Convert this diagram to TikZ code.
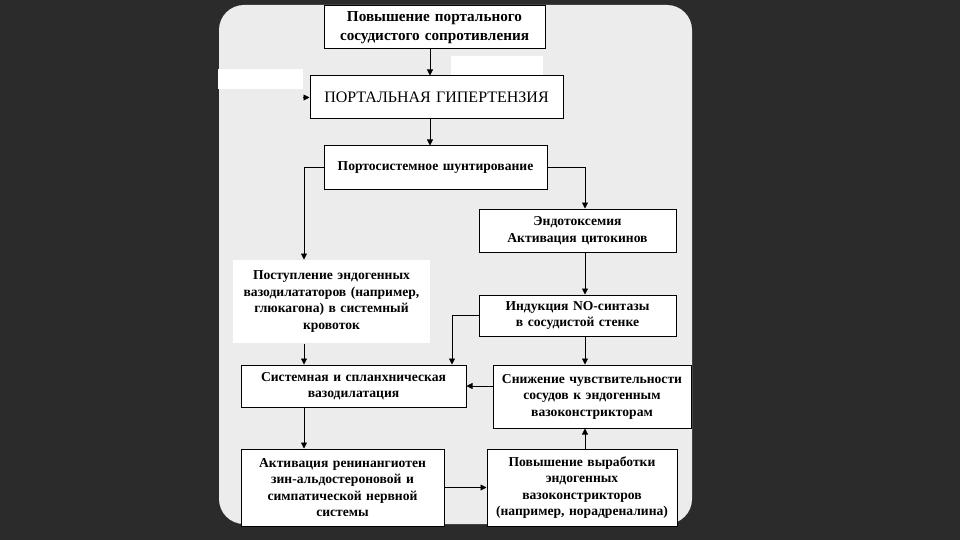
\documentclass[tikz,border=0pt]{standalone}
\usepackage{fontspec}
\setmainfont{Liberation Serif}
\usepackage{xcolor}
\usetikzlibrary{arrows.meta}

\definecolor{darkbg}{HTML}{2B2B2B}
\definecolor{cardbg}{HTML}{ECECEC}

\begin{document}
\begin{tikzpicture}[x=1pt, y=-1pt,
        box/.style={draw, line width=1pt, fill=white, inner sep=0pt, align=center,
            font=\bfseries\fontsize{13.6}{16.5}\selectfont},
        blank/.style={fill=white, inner sep=0pt},
        arr/.style={line width=0.8pt, -{Triangle[length=6pt, width=6pt]}}]
        \fill[darkbg] (0, 0) rectangle (960, 540);
        \fill[cardbg, rounded corners=25pt] (219, 5) rectangle (692, 524);

        \node[blank, minimum width=85pt, minimum height=20pt] (bl) at (260.5, 79) {};
        \node[blank, minimum width=92pt, minimum height=20pt] (br) at (497, 66) {};

        \node[box, text width=221pt, minimum height=43pt,
            font=\bfseries\fontsize{15.2}{18.5}\selectfont] (top) at (434.5, 27.5)
            {Повышение портального\\сосудистого сопротивления};
        \node[box, text width=253pt, minimum height=43pt,
            font=\fontsize{16}{19}\selectfont] (portal) at (436.5, 97.5)
            {ПОРТАЛЬНАЯ ГИПЕРТЕНЗИЯ};
        \node[box, text width=223pt, minimum height=43pt] (shunt) at (435.5, 167.5)
            {Портосистемное шунтирование};
        \node[box, text width=197pt, minimum height=43pt] (endo) at (577.5, 230.5)
            {Эндотоксемия\\Активация цитокинов};
        \node[box, draw=none, text width=197pt, minimum height=83pt] (post) at (331.5, 301.5)
            {Поступление эндогенных\\вазодилататоров (например,\\глюкагона) в системный\\кровоток\\[4pt]};
        \node[box, text width=197pt, minimum height=41pt] (induc) at (577.5, 315.5)
            {Индукция NO-синтазы\\в сосудистой стенке};
        \node[box, text width=225pt, minimum height=42pt] (sist) at (353.5, 386)
            {Системная и спланхническая\\вазодилатация};
        \node[box, text width=198pt, minimum height=63pt] (snizh) at (592, 396.5)
            {Снижение чувствительности\\сосудов к эндогенным\\вазоконстрикторам};
        \node[box, text width=203pt, minimum height=77pt] (activ) at (342.5, 487.5)
            {Активация ренинангиотен\\зин-альдостероновой и\\симпатической нервной\\системы};
        \node[box, text width=190pt, minimum height=77pt] (povysh) at (582, 487.5)
            {Повышение выработки\\эндогенных\\вазоконстрикторов\\(например, норадреналина)};

        \coordinate (mx) at (430, 0);
        \coordinate (lx) at (304, 0);
        \coordinate (rx) at (585, 0);
        \coordinate (sx) at (452, 0);

        \draw[arr] (top.south -| mx) to (portal.north -| mx);
        \draw[arr] (bl.east |- portal.west) to (portal.west);
        \draw[arr] (portal.south -| mx) to (shunt.north -| mx);
        \draw[arr] (shunt.west) -| (post.north -| lx);
        \draw[arr] (shunt.east) -| (endo.north -| rx);
        \draw[arr] (endo.south -| rx) to (induc.north -| rx);
        \draw[arr] (induc.west) -| (sist.north -| sx);
        \draw[arr] (post.south -| lx) to (sist.north -| lx);
        \draw[arr] (induc.south -| rx) to (snizh.north -| rx);
        \draw[arr] (snizh.west |- sist.east) to (sist.east);
        \draw[arr] (sist.south -| lx) to (activ.north -| lx);
        \draw[arr] (activ.east |- povysh.west) to (povysh.west);
        \draw[arr] (povysh.north -| rx) to (snizh.south -| rx);
    \end{tikzpicture}
\end{document}
